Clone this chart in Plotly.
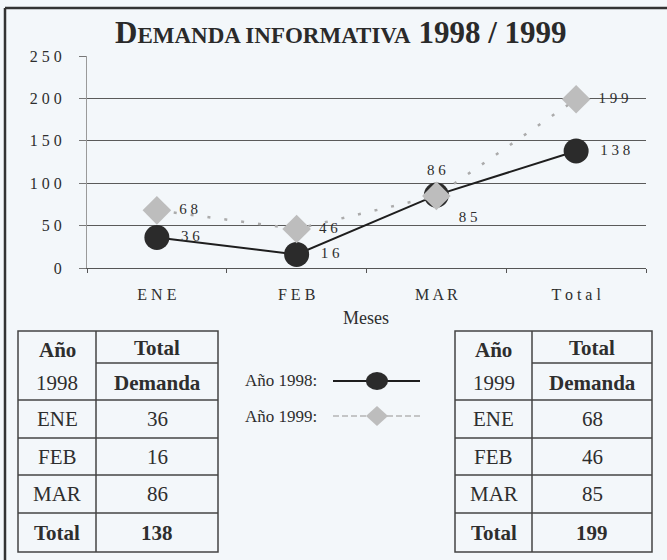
import plotly.graph_objects as go

# ---------------- data ----------------
months = ["ENE", "FEB", "MAR", "Total"]
d1998 = [36, 16, 86, 138]
d1999 = [68, 46, 85, 199]
yticks = [0, 50, 100, 150, 200, 250]
title_text = "Demanda informativa 1998 / 1999"
x_title = "Meses"
series_names = ["Año 1998:", "Año 1999:"]
table_head_left = ["Año", "1998"]
table_head_right = ["Año", "1999"]
table_head_col2 = ["Total", "Demanda"]

# ---------------- layout helpers ----------------
W, H = 667, 560
L, R, T, B = 87, 21, 56, 292
PW, PH = W - L - R, H - T - B
BG = "#f3f7fa"
INK = "#2e2e2e"
SERIF = "Liberation Serif"


def px(x):
    return (x - L) / PW


def py(y):
    return (H - B - y) / PH


def spaced(s):
    return " ".join(str(s))


pos1998 = ["middle right", "middle right", "top center", "middle right"]
pos1999 = ["middle right", "middle right", "bottom right", "middle right"]


def label(v, pos):
    return ("\u2002" if "right" in pos else "") + spaced(v)


fig = go.Figure()

fig.add_trace(go.Scatter(
    x=months, y=d1998, mode="lines+markers+text",
    line=dict(color="#1e1e1e", width=2),
    marker=dict(symbol="circle", size=25, color="#2b2b2b"),
    text=[label(v, p) for v, p in zip(d1998, pos1998)],
    textposition=pos1998,
    textfont=dict(family=SERIF, size=15, color=INK),
    showlegend=False, cliponaxis=False,
))
fig.add_trace(go.Scatter(
    x=months, y=d1999, mode="lines+markers+text",
    line=dict(color="#ababab", width=2.5, dash="3px,14px"),
    marker=dict(symbol="diamond", size=22, color="#bdbdbd"),
    text=[label(v, p) for v, p in zip(d1999, pos1999)],
    textposition=pos1999,
    textfont=dict(family=SERIF, size=15, color=INK),
    showlegend=False, cliponaxis=False,
))

fig.update_layout(
    width=W, height=H,
    margin=dict(l=L, r=R, t=T, b=B, pad=0),
    paper_bgcolor=BG, plot_bgcolor=BG,
    font=dict(family=SERIF, color=INK),
    xaxis=dict(
        type="category", range=[-0.5, 3.5],
        tickvals=months, ticktext=[spaced(m) for m in months],
        tickfont=dict(family=SERIF, size=16, color=INK),
        showline=True, linecolor="#555", linewidth=1.2,
        ticks="outside", tickson="boundaries", ticklen=4, tickcolor="#555",
        showgrid=False, ticklabelstandoff=12, fixedrange=True,
    ),
    yaxis=dict(
        range=[0, 250], tickvals=yticks, ticktext=[spaced(v) for v in yticks],
        tickfont=dict(family=SERIF, size=16, color=INK),
        showgrid=True, gridcolor="#5a5a5a", gridwidth=1,
        zeroline=False, showline=True, linecolor="#9a9a9a", linewidth=1,
        ticks="outside", ticklen=7, tickcolor="#777",
        ticklabelstandoff=14, fixedrange=True,
    ),
)

shapes = []
ann = []

# outer frame (left and top)
shapes.append(dict(type="line", xref="paper", yref="paper",
                   x0=px(5), x1=px(W + 5), y0=py(8), y1=py(8),
                   line=dict(color="#333", width=2.5)))
shapes.append(dict(type="line", xref="paper", yref="paper",
                   x0=px(5), x1=px(5), y0=py(8), y1=py(H + 5),
                   line=dict(color="#333", width=2.5)))

# title with small caps
first, rest = title_text.split(" 1998")
t_html = ("<b>" + first[0].upper()
          + "<span style='font-size:23px'>" + first[1:].upper() + "</span>"
          + " 1998" + rest + "</b>")
ann.append(dict(x=px(341), y=py(32), xref="paper", yref="paper",
                text=t_html, showarrow=False, xanchor="center", yanchor="middle",
                font=dict(family=SERIF, size=31, color="#2a2a2a")))

# x-axis title
ann.append(dict(x=px(366), y=py(318), xref="paper", yref="paper",
                text=x_title, showarrow=False, xanchor="center", yanchor="middle",
                font=dict(family=SERIF, size=18, color=INK)))


# ---------------- tables ----------------
def add_table(x0, xm, x1, head_left, values):
    yt, yh = 331, 363
    rows = [400, 438, 475, 513, 552]
    lc = dict(color="#444", width=1.5)
    shapes.append(dict(type="rect", xref="paper", yref="paper",
                       x0=px(x0), x1=px(x1), y0=py(yt), y1=py(rows[-1]), line=lc))
    shapes.append(dict(type="line", xref="paper", yref="paper",
                       x0=px(xm), x1=px(xm), y0=py(yt), y1=py(rows[-1]), line=lc))
    shapes.append(dict(type="line", xref="paper", yref="paper",
                       x0=px(xm), x1=px(x1), y0=py(yh), y1=py(yh), line=lc))
    for ry in rows[:-1]:
        shapes.append(dict(type="line", xref="paper", yref="paper",
                           x0=px(x0), x1=px(x1), y0=py(ry), y1=py(ry), line=lc))
    cl = (x0 + xm) / 2
    cr = (xm + x1) / 2

    def txt(x, y, s, bold=False):
        ann.append(dict(x=px(x), y=py(y), xref="paper", yref="paper",
                        text=("<b>%s</b>" % s) if bold else s,
                        showarrow=False, xanchor="center", yanchor="middle",
                        font=dict(family=SERIF, size=21, color=INK)))

    txt(cl, 350, head_left[0], True)
    txt(cl, 383, head_left[1])
    txt(cr, 348, table_head_col2[0], True)
    txt(cr, 383, table_head_col2[1], True)
    for i, (m, v) in enumerate(zip(months, values)):
        yc = (rows[i] + rows[i + 1]) / 2
        b = (m == "Total")
        txt(cl, yc, m, b)
        txt(cr, yc, str(v), b)


add_table(18, 96, 218, table_head_left, d1998)
add_table(455, 532, 652, table_head_right, d1999)

# ---------------- manual legend ----------------
ann.append(dict(x=px(243), y=py(380), xref="paper", yref="paper",
                text=series_names[0], showarrow=False, xanchor="left", yanchor="middle",
                font=dict(family=SERIF, size=17, color=INK)))
ann.append(dict(x=px(243), y=py(416), xref="paper", yref="paper",
                text=series_names[1], showarrow=False, xanchor="left", yanchor="middle",
                font=dict(family=SERIF, size=17, color=INK)))
shapes.append(dict(type="line", xref="paper", yref="paper",
                   x0=px(333), x1=px(420), y0=py(381), y1=py(381),
                   line=dict(color="#1e1e1e", width=2)))
shapes.append(dict(type="circle", xref="paper", yref="paper",
                   x0=px(366), x1=px(388), y0=py(372), y1=py(390),
                   fillcolor="#2b2b2b", line=dict(color="#2b2b2b", width=0)))
shapes.append(dict(type="line", xref="paper", yref="paper",
                   x0=px(333), x1=px(420), y0=py(416), y1=py(416),
                   line=dict(color="#b5b5b5", width=1.5, dash="6px,3px")))
cx, cy, hw, hh = 377, 416, 11, 10
path = "M {a},{b} L {c},{d} L {a},{e} L {f},{d} Z".format(
    a=px(cx), b=py(cy - hh), c=px(cx + hw), d=py(cy), e=py(cy + hh), f=px(cx - hw))
shapes.append(dict(type="path", xref="paper", yref="paper", path=path,
                   fillcolor="#bdbdbd", line=dict(color="#bdbdbd", width=0)))

fig.update_layout(shapes=shapes, annotations=ann)
fig.write_html("out.html",
               config={"displayModeBar": False},
               post_script="document.body.style.margin='0';"
                           "document.body.style.overflow='hidden';"
                           "document.body.style.background='" + BG + "';")
